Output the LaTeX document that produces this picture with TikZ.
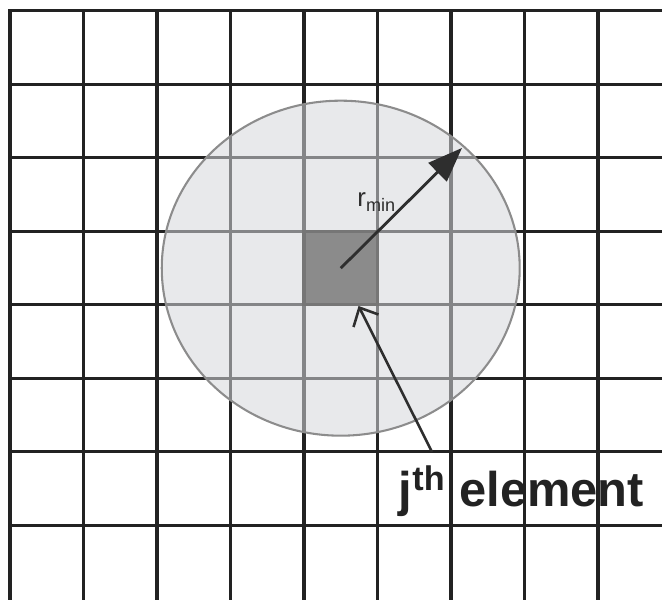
\documentclass[tikz,border=0pt]{standalone}
\usepackage{fontspec}
\setmainfont{Liberation Sans}
\usetikzlibrary{arrows.meta}
\definecolor{gridink}{HTML}{222222}
\definecolor{discfill}{RGB}{214,215,219}
\definecolor{rimgray}{HTML}{8C8C8C}
\definecolor{cellgray}{HTML}{8B8B8B}
\definecolor{cellrim}{HTML}{767676}
\definecolor{arrowink}{HTML}{2E2E2E}
\tikzset{
  gridline/.style={draw=gridink, line width=1.2pt, line cap=rect},
  disc/.style={fill=discfill, fill opacity=.55, draw=rimgray, line width=.8pt},
  cellbox/.style={fill=cellgray, draw=cellrim, line width=1.2pt, minimum size=1cm,
    inner sep=0pt, outer sep=0pt},
  radiusarrow/.style={-{Triangle[length=.47cm,width=.35cm]}, draw=arrowink, line width=1.1pt},
  pointer/.style={-{Straight Barb[length=.2cm,width=.38cm]}, draw=arrowink, line width=1pt},
  rlabel/.style={text=arrowink, font=\fontsize{10}{12}\selectfont, inner sep=0pt, anchor=base west},
  elemlabel/.style={text=gridink, font=\bfseries\fontsize{18.9}{22}\selectfont, inner sep=0pt,
    anchor=base west},
}

\begin{document}
\begin{tikzpicture}[x=1cm,y=1cm]
  \useasboundingbox (0,0) rectangle (9.007,8.163);

  % Mesh of square elements.
  \foreach \i in {0,...,8}
    \draw[gridline] (0.136+\i,0) -- (0.136+\i,8.014);
  \foreach \j in {0,...,7}
    \draw[gridline] (0.136,8.014-\j) -- (9.007,8.014-\j);

  % Search zone around the element and the element itself.
  \coordinate (centre) at (4.636,4.514);
  \draw[disc] (centre) ellipse [x radius=2.435, y radius=2.279];
  \node[cellbox] (cell) at (centre) {};

  % Radius of the zone.
  \coordinate (rim) at (6.286,6.150);
  \draw[radiusarrow] (centre) -- (rim);
  \node[rlabel] (rmin) at (4.857,5.347) {r\textsubscript{min}};

  % Label of the element.
  \node[elemlabel] (jlabel) at (5.42,1.265) {j\textsuperscript{th} element};
  \coordinate (tail) at (5.878,2.014);
  \coordinate (cellfoot) at (4.878,4.000);
  \draw[pointer] (tail) -- (cellfoot);
\end{tikzpicture}
\end{document}
